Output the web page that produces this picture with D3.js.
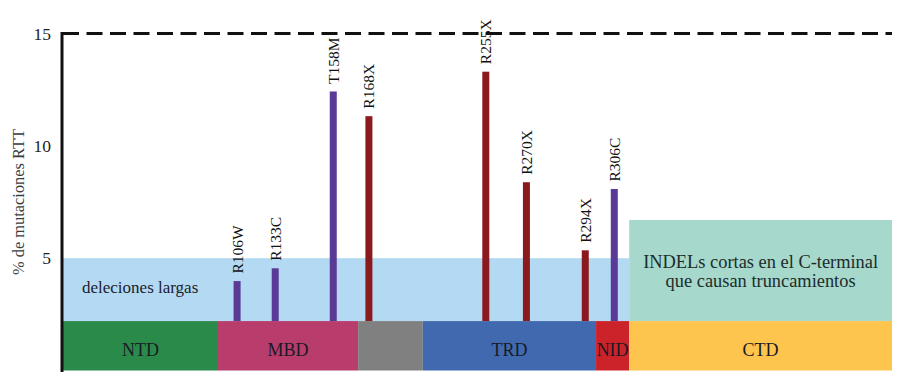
<!DOCTYPE html>
<html><head><meta charset="utf-8">
<script src="https://cdn.jsdelivr.net/npm/d3@7"></script>
<style>body{margin:0;background:#fff}svg{display:block}</style>
</head><body><div id="chart"></div>
<script>
// Schematic position along the protein (0-100) and values (% de mutaciones RTT)
const domainNames = ["NTD","MBD","","TRD","NID","CTD"];
const domainStarts = [0, 18.7, 35.6, 43.4, 64.3, 68.3];
const domainEnds = [18.7, 35.6, 43.4, 64.3, 68.3, 100];
const domainColors = ["#2a8a4a","#b83c6c","#808080","#4169b0","#cc2229","#fdc54e"];
const domainBase = 2.2;

const mutations = ["R106W","R133C","T158M","R168X","R255X","R270X","R294X","R306C"];
const mutationPos = [21.0, 25.6, 32.6, 36.9, 51.0, 55.9, 63.0, 66.5];
const mutationValues = [3.98, 4.55, 12.42, 11.32, 13.3, 8.38, 5.35, 8.08];
const mutationType = ["missense","missense","missense","nonsense","nonsense","nonsense","nonsense","missense"];

const regionLabels = ["deleciones largas","INDELs cortas en el C-terminal|que causan truncamientos"];
const regionStarts = [0, 68.3];
const regionEnds = [68.3, 100];
const regionTops = [5.0, 6.7];
const regionColors = ["#b3d9f3","#a6d8cb"];

const yTicks = [5, 10, 15];
const yTitle = "% de mutaciones RTT";

const FONT = "'Liberation Serif', 'Times New Roman', serif";
const W = 900, H = 379;
const margin = {left: 63, right: 8, top: 33.5, bottom: 8.5};
const svg = d3.select("#chart").append("svg").attr("width", W).attr("height", H)
  .style("font-family", FONT);

const x = d3.scaleLinear().domain([0, 100]).range([margin.left, W - margin.right]);
const y = d3.scaleLinear().domain([0, 15]).range([H - margin.bottom, margin.top]);

// regions
const regions = regionLabels.map((l, i) => ({l, s: regionStarts[i], e: regionEnds[i], t: regionTops[i], c: regionColors[i]}));
svg.selectAll("rect.region").data(regions).enter().append("rect")
  .attr("x", d => x(d.s)).attr("width", d => x(d.e) - x(d.s))
  .attr("y", d => y(d.t)).attr("height", d => y(domainBase) - y(d.t))
  .attr("fill", d => d.c);

// region text
svg.append("text").attr("x", x(regions[0].s) + 19).attr("y", y((regions[0].t + domainBase) / 2) + 3)
  .attr("font-size", 17).attr("fill", "#1c1c2c").style("font-family", FONT).text(regionLabels[0].split("|")[0]);
const l2 = regionLabels[1].split("|");
l2.forEach((t, i) => {
  svg.append("text").attr("x", (x(regions[1].s) + x(regions[1].e)) / 2)
    .attr("y", y((regions[1].t + domainBase) / 2) - 3 + i * 19)
    .attr("text-anchor", "middle").attr("font-size", 18.4).attr("fill", "#1c2c2c").style("font-family", FONT).text(t);
});

// domains
const domains = domainNames.map((n, i) => ({n, s: domainStarts[i], e: domainEnds[i], c: domainColors[i]}));
svg.selectAll("rect.domain").data(domains).enter().append("rect")
  .attr("x", d => x(d.s)).attr("width", d => x(d.e) - x(d.s))
  .attr("y", y(domainBase)).attr("height", y(0) - y(domainBase))
  .attr("fill", d => d.c);
svg.selectAll("text.domain").data(domains).enter().append("text")
  .attr("x", d => (x(d.s) + x(d.e)) / 2).attr("y", y(domainBase / 2) + 10.5)
  .attr("text-anchor", "middle").attr("font-size", 18).attr("fill", "#1a1a24").style("font-family", FONT)
  .text(d => d.n);

// mutation bars
const muts = mutations.map((m, i) => ({m, p: mutationPos[i], v: mutationValues[i], t: mutationType[i]}));
const barW = 7;
svg.selectAll("rect.bar").data(muts).enter().append("rect")
  .attr("x", d => x(d.p) - barW / 2).attr("width", barW)
  .attr("y", d => y(d.v)).attr("height", d => y(domainBase) - y(d.v))
  .attr("fill", d => d.t === "missense" ? "#5a3a96" : "#8b1a1e");
svg.selectAll("text.bar").data(muts).enter().append("text")
  .attr("transform", d => `translate(${x(d.p)},${y(d.v) - 7.5}) rotate(-90)`)
  .attr("dy", "0.35em").attr("font-size", 15.5).attr("fill", "#111").style("font-family", FONT)
  .text(d => d.m);

// dashed top line
svg.append("line").attr("x1", margin.left).attr("x2", x(100)).attr("y1", y(15)).attr("y2", y(15))
  .attr("stroke", "#111").attr("stroke-width", 3).attr("stroke-dasharray", "16,7.5");

// y axis
const ax = svg.append("g").attr("transform", `translate(${margin.left - 1},0)`)
  .call(d3.axisLeft(y).tickValues(yTicks).tickSize(0).tickPadding(11).tickFormat(d3.format("d")));
ax.attr("font-family", null);
ax.select(".domain").attr("stroke", "#111").attr("stroke-width", 3).attr("d", `M0,${y(15) - 1.5}V${y(0) + 1.5}`);
ax.selectAll("text").attr("font-size", 17.5).attr("fill", "#222").style("font-family", FONT);

svg.append("text").attr("transform", `translate(18.5,${(y(15) + y(0)) / 2}) rotate(-90)`)
  .attr("text-anchor", "middle").attr("dy", "0.35em").attr("font-size", 16.4).attr("fill", "#3c3c3c").style("font-family", FONT)
  .text(yTitle);
</script></body></html>
